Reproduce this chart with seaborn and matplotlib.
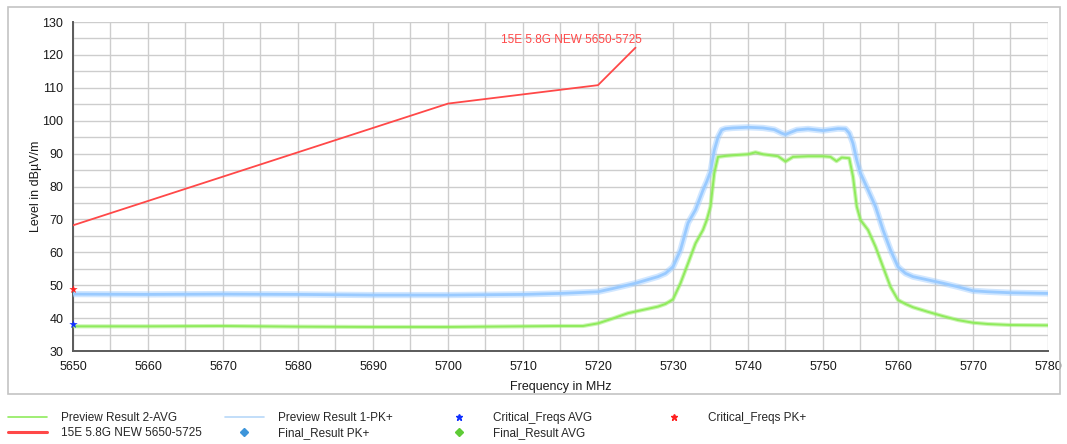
import matplotlib
matplotlib.use("Agg")
import matplotlib.pyplot as plt
from matplotlib.lines import Line2D
from matplotlib.patches import Rectangle
from matplotlib.ticker import MultipleLocator
import seaborn as sns
import pandas as pd

# ---------------- data ----------------
pk_freq = [5650, 5660, 5670, 5680, 5690, 5700, 5705, 5710, 5715, 5718, 5720, 5722,
           5725, 5728, 5729, 5730, 5731, 5732, 5733, 5734, 5734.5, 5735, 5735.5, 5736,
           5736.5, 5737, 5738, 5740, 5742, 5743.5, 5744.5, 5745, 5745.5, 5746.5, 5748,
           5750, 5752, 5753, 5753.5, 5754, 5754.5, 5755, 5756, 5757, 5758, 5759, 5760,
           5761, 5762, 5764, 5766, 5768, 5770, 5772, 5775, 5780]
pk_level = [47.3, 47.2, 47.3, 47.2, 47.0, 47.0, 47.1, 47.2, 47.5, 47.8, 48.0, 49.0,
            50.6, 52.6, 53.6, 55.6, 60.7, 68.9, 72.9, 78.9, 81.5, 84.5, 91.0, 95.0,
            97.2, 97.6, 97.8, 98.0, 97.8, 97.3, 96.2, 95.8, 96.3, 97.2, 97.5,
            97.0, 97.6, 97.5, 96.2, 93.1, 88.0, 84.0, 79.0, 73.9, 66.8, 60.7, 55.6,
            53.6, 52.6, 51.6, 50.6, 49.5, 48.3, 48.0, 47.7, 47.5]

avg_freq = [5650, 5660, 5670, 5680, 5690, 5700, 5710, 5715, 5718, 5720, 5722, 5724,
            5726, 5728, 5729, 5730, 5731, 5732, 5733, 5734, 5734.5, 5735, 5735.5, 5736,
            5737, 5738, 5740, 5741, 5742, 5744, 5745, 5746, 5748, 5750, 5751, 5751.8,
            5752.5, 5753.5, 5754, 5754.5, 5755, 5756, 5757, 5758, 5759, 5760, 5761,
            5762, 5764, 5766, 5768, 5770, 5772, 5775, 5780]
avg_level = [37.5, 37.5, 37.6, 37.4, 37.3, 37.3, 37.5, 37.6, 37.6, 38.4, 39.9, 41.5,
             42.5, 43.5, 44.3, 45.7, 50.6, 56.6, 62.7, 66.8, 69.8, 73.9, 84.0, 89.0,
             89.3, 89.5, 89.8, 90.4, 89.8, 89.2, 87.6, 89.0, 89.2, 89.2, 89.0, 87.7,
             88.8, 88.6, 83.0, 73.9, 69.8, 66.8, 61.7, 55.6, 49.5, 45.5, 44.3,
             43.3, 41.9, 40.6, 39.4, 38.6, 38.2, 37.9, 37.8]

limit_freq = [5650, 5700, 5720, 5725]
limit_level = [68.2, 105.2, 110.8, 122.2]
limit_name = "15E 5.8G NEW 5650-5725"

crit_pk_freq = [5650]
crit_pk_level = [48.8]
crit_avg_freq = [5650]
crit_avg_level = [38.2]

x_ticks = [5650, 5660, 5670, 5680, 5690, 5700, 5710, 5720, 5730, 5740, 5750, 5760, 5770, 5780]
y_ticks = [30, 40, 50, 60, 70, 80, 90, 100, 110, 120, 130]

# ---------------- styling ----------------
sns.set_theme(style="white")
plt.rcParams['font.family'] = ['Liberation Sans', 'DejaVu Sans']

C_AVG = "#8FEB5C"
C_PK = "#99CAFF"
C_LIM = "#FF4848"
C_FIN_PK = "#3D95DA"
C_FIN_AVG = "#5ECB36"

fig = plt.figure(figsize=(10.67, 4.44), dpi=100)
W, H = 1067, 444
ax = fig.add_axes([73 / W, 1 - 351 / H, (1048 - 73) / W, (351 - 22) / H])

# outer frame
fig.patches.append(Rectangle((8 / W, 1 - 394 / H), (1060 - 8) / W, (394 - 7) / H,
                             transform=fig.transFigure, fill=False,
                             edgecolor="#c4c4c4", linewidth=1.2, zorder=0))

df_pk = pd.DataFrame({"f": pk_freq, "v": pk_level})
df_avg = pd.DataFrame({"f": avg_freq, "v": avg_level})
df_lim = pd.DataFrame({"f": limit_freq, "v": limit_level})

# noisy band look via wide translucent stroke + core stroke
sns.lineplot(data=df_pk, x="f", y="v", ax=ax, color=C_PK, lw=4.5, alpha=0.45, sort=False, zorder=3)
sns.lineplot(data=df_pk, x="f", y="v", ax=ax, color=C_PK, lw=2.0, sort=False, zorder=3)
sns.lineplot(data=df_avg, x="f", y="v", ax=ax, color=C_AVG, lw=3.0, alpha=0.45, sort=False, zorder=4)
sns.lineplot(data=df_avg, x="f", y="v", ax=ax, color=C_AVG, lw=1.4, sort=False, zorder=4)
sns.lineplot(data=df_lim, x="f", y="v", ax=ax, color=C_LIM, lw=1.3, sort=False, zorder=5)

sns.scatterplot(x=crit_pk_freq, y=crit_pk_level, ax=ax, color="#ff2020", marker="*",
                s=40, linewidth=0, zorder=6, clip_on=False)
sns.scatterplot(x=crit_avg_freq, y=crit_avg_level, ax=ax, color="#1030ff", marker="*",
                s=40, linewidth=0, zorder=6, clip_on=False)

ax.text(5716.5, 124.6, limit_name, color=C_LIM, fontsize=8.5, ha="center", va="center", zorder=6)

ax.set_xlim(5650, 5780)
ax.set_ylim(30, 130)
ax.set_xticks(x_ticks)
ax.set_yticks(y_ticks)
ax.xaxis.set_minor_locator(MultipleLocator(5))
ax.yaxis.set_minor_locator(MultipleLocator(5))
ax.grid(True, which="both", color="#cdcdcd", linewidth=1.0, zorder=0)
ax.set_axisbelow(True)

for s in ["top", "right"]:
    ax.spines[s].set_visible(False)
for s in ["left", "bottom"]:
    ax.spines[s].set_color("#5a5a5a")
    ax.spines[s].set_linewidth(1.4)

ax.tick_params(axis="both", which="both", direction="out", length=4, width=1.0,
               color="#444444", labelsize=9, labelcolor="#1a1a1a", pad=2)
ax.tick_params(axis="both", which="major", length=5)

ax.set_xlabel("Frequency in MHz", fontsize=9, color="#1a1a1a", labelpad=6)
ax.set_ylabel("Level in dBµV/m", fontsize=9, color="#1a1a1a", labelpad=0)

# ---------------- legends (4 columns) ----------------
leg_kw = dict(loc="upper left", frameon=False, fontsize=8.5, handlelength=3.3,
              handletextpad=1.2, borderpad=0, borderaxespad=0, labelspacing=0.25,
              numpoints=1)
col1 = [Line2D([], [], color=C_AVG, lw=1.2), Line2D([], [], color=C_LIM, lw=2.2)]
col2 = [Line2D([], [], color="#b8d8f8", lw=1.2),
        Line2D([], [], color=C_FIN_PK, marker="D", ms=4.5, ls="none")]
col3 = [Line2D([], [], color="#1030ff", marker="*", ms=5, ls="none"),
        Line2D([], [], color=C_FIN_AVG, marker="D", ms=4.5, ls="none")]
col4 = [Line2D([], [], color="#ff2020", marker="*", ms=5, ls="none")]
fig.legend(col1, ["Preview Result 2-AVG", limit_name], bbox_to_anchor=(8 / W, 1 - 412 / H), **leg_kw)
fig.legend(col2, ["Preview Result 1-PK+", "Final_Result PK+"], bbox_to_anchor=(225 / W, 1 - 412 / H), **leg_kw)
fig.legend(col3, ["Critical_Freqs AVG", "Final_Result AVG"], bbox_to_anchor=(440 / W, 1 - 412 / H), **leg_kw)
fig.legend(col4, ["Critical_Freqs PK+"], bbox_to_anchor=(655 / W, 1 - 412 / H), **leg_kw)

fig.savefig("out.png", dpi=100, facecolor="white")
